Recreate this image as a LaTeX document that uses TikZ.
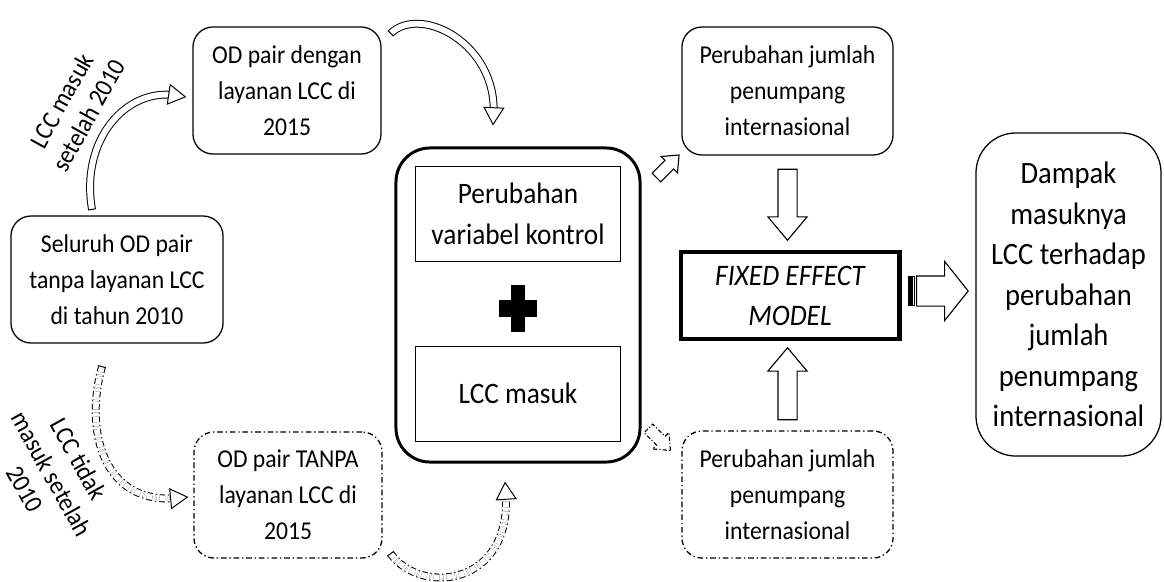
\documentclass[tikz,border=0pt]{standalone}
\usepackage{fontspec}
\setmainfont[FakeStretch=0.92]{Carlito}
\usepackage{tikz}
\usetikzlibrary{arrows.meta,shapes,positioning,calc}
\tikzset{
    box/.style={draw, rounded corners=0.5cm, line width=0.9pt, align=center, inner sep=0pt, font=\fontsize{18.3}{25.6}\selectfont},
    dashbox/.style={box, dash pattern=on 4pt off 2pt on 1pt off 2pt},
    inbox/.style={draw, line width=0.7pt, align=center, inner sep=0pt, minimum width=5.1cm, font=\fontsize{21.1}{29.5}\selectfont},
    note/.style={align=center, inner sep=0pt, font=\fontsize{18.4}{22}\selectfont},
    blockarrow/.style={single arrow, draw, fill=white, line width=0.8pt, inner xsep=0pt, anchor=tail, single arrow tip angle=80},
    band/.style={double, double distance=4.2pt, line width=0.7pt, shorten >=8pt},
    dashband/.style={band, dash pattern=on 4pt off 2pt on 1pt off 2pt},
    bandhead/.style={white, line width=0.3pt, -{Triangle[length=13pt, width=15pt, color=black, fill=white, line width=0.7pt]}},
    bandtail/.style={line width=0.7pt}
}
\begin{document}
\begin{tikzpicture}[x=0.025cm, y=-0.025cm]
    \useasboundingbox (0,0) rectangle (1164,581);
    \node[box, minimum width=4.7cm, minimum height=3.175cm] (odwith) at (287,90.5) {OD pair dengan\\layanan LCC di\\2015};
    \node[box, minimum width=5.3cm, minimum height=3.175cm] (odall) at (117,279.5) {Seluruh OD pair\\tanpa layanan LCC\\di tahun 2010};
    \node[dashbox, minimum width=4.7cm, minimum height=3.15cm] (odwithout) at (288,495) {OD pair TANPA\\layanan LCC di\\2015};
    \node[draw, rounded corners=0.85cm, line width=2.1pt, minimum width=6.1cm, minimum height=7.85cm] (model) at (518,305) {};
    \node[inbox, minimum height=2.35cm, below=0.5cm of model.north] (kontrol) {Perubahan\\variabel kontrol};
    \node[inbox, minimum height=2.375cm, above=0.55cm of model.south] (masuk) {LCC masuk};
    \coordinate (plus) at (518,308.5);
    \fill ($(plus)+(-7,-23.5)$) rectangle ($(plus)+(7,23.5)$);
    \fill ($(plus)+(-19,-8.5)$) rectangle ($(plus)+(19,8.5)$);
    \node[box, minimum width=5.275cm, minimum height=3.2cm] (pnpup) at (787.5,91) {Perubahan jumlah\\penumpang\\internasional};
    \node[dashbox, minimum width=5.275cm, minimum height=3.175cm] (pnpdown) at (787.5,494.5) {Perubahan jumlah\\penumpang\\internasional};
    \node[draw, line width=3.5pt, minimum width=5.45cm, minimum height=2.175cm, align=center, inner sep=0pt, font=\fontsize{21.2}{28.5}\selectfont\itshape] (fem) at (790,295.5) {FIXED EFFECT\\MODEL};
    \node[box, rounded corners=1cm, minimum width=4.625cm, minimum height=8.075cm, font=\fontsize{22.1}{28.8}\selectfont] (impact) at (1068.5,294.5) {Dampak\\masuknya\\LCC terhadap\\perubahan\\jumlah\\penumpang\\internasional};
    \node[note, rotate=61] (lblwith) at (75,108) {LCC masuk\\setelah 2010};
    \node[note, rotate=-61] (lblwithout) at (52,474) {LCC tidak\\masuk setelah\\2010};
    \node[blockarrow, rotate=-90, minimum height=1.775cm, minimum width=0.95cm, inner ysep=0.225cm, single arrow head extend=0.25cm] (down) at ([shift={(0,13)}]pnpup.south) {};
    \node[blockarrow, rotate=90, minimum height=1.8cm, minimum width=0.95cm, inner ysep=0.225cm, single arrow head extend=0.25cm] (up) at ([shift={(0,-10)}]pnpdown.north) {};
    \node[blockarrow, rotate=45, minimum height=0.8cm, minimum width=0.55cm, inner ysep=0.1375cm, single arrow head extend=0.1375cm] (toup) at (656,178) {};
    \node[blockarrow, rotate=-45, minimum height=0.78cm, minimum width=0.55cm, inner ysep=0.1375cm, single arrow head extend=0.1375cm, dash pattern=on 3pt off 1.5pt on 0.8pt off 1.5pt] (todown) at (648,428) {};
    \node[blockarrow, minimum height=1.29cm, minimum width=1.45cm, inner ysep=0.3625cm, single arrow head extend=0.3625cm, single arrow tip angle=103] (toimpact) at ([shift={(14.5,-4.5)}]fem.east) {};
    \draw[line width=0.8pt, fill=black] ([shift={(-7,-14.5)}]toimpact.tail) rectangle ([shift={(-5,14.5)}]toimpact.tail);
    \draw[line width=0.8pt] ([shift={(-3.5,-14.5)}]toimpact.tail) rectangle ([shift={(-1.5,14.5)}]toimpact.tail);
    \coordinate (b1s) at ([shift={(-25,-6)}]odall.north);
    \coordinate (b1e) at ([shift={(-6,6.5)}]odwith.west);
    \coordinate (b1a) at ($(b1s)+(-12,-70)$);
    \coordinate (b1c) at ($(b1e)+(-60,-9)$);
    \draw[band] (b1s) .. controls (b1a) and (b1c) .. (b1e);
    \draw[bandhead] ($(b1e)!14pt!(b1c)$) -- (b1e);
    \draw[bandtail] ($(b1s)!2.8pt!90:(b1a)$) -- ($(b1s)!2.8pt!-90:(b1a)$);
    \coordinate (b2s) at ([shift={(9,7)}]odwith.north east);
    \coordinate (b2e) at ([shift={(-25,-21)}]model.north);
    \coordinate (b2a) at ($(b2s)+(30,-29)$);
    \coordinate (b2c) at ($(b2e)+(4,-82)$);
    \draw[band] (b2s) .. controls (b2a) and (b2c) .. (b2e);
    \draw[bandhead] ($(b2e)!14pt!(b2c)$) -- (b2e);
    \draw[bandtail] ($(b2s)!2.8pt!90:(b2a)$) -- ($(b2s)!2.8pt!-90:(b2a)$);
    \coordinate (b3s) at ([shift={(-15,23)}]odall.south);
    \coordinate (b3e) at ([shift={(-5,2)}]odwithout.west);
    \coordinate (b3a) at ($(b3s)+(-18,64)$);
    \coordinate (b3c) at ($(b3e)+(-85,8)$);
    \draw[dashband] (b3s) .. controls (b3a) and (b3c) .. (b3e);
    \draw[bandhead] ($(b3e)!14pt!(b3c)$) -- (b3e);
    \draw[bandtail] ($(b3s)!2.8pt!90:(b3a)$) -- ($(b3s)!2.8pt!-90:(b3a)$);
    \coordinate (b4s) at ([shift={(8,-5)}]odwithout.south east);
    \coordinate (b4e) at ([shift={(-13,18)}]model.south);
    \coordinate (b4a) at ($(b4s)+(30,42)$);
    \coordinate (b4c) at ($(b4e)+(7,105)$);
    \draw[dashband] (b4s) .. controls (b4a) and (b4c) .. (b4e);
    \draw[bandhead] ($(b4e)!14pt!(b4c)$) -- (b4e);
    \draw[bandtail] ($(b4s)!2.8pt!90:(b4a)$) -- ($(b4s)!2.8pt!-90:(b4a)$);
\end{tikzpicture}
\end{document}
